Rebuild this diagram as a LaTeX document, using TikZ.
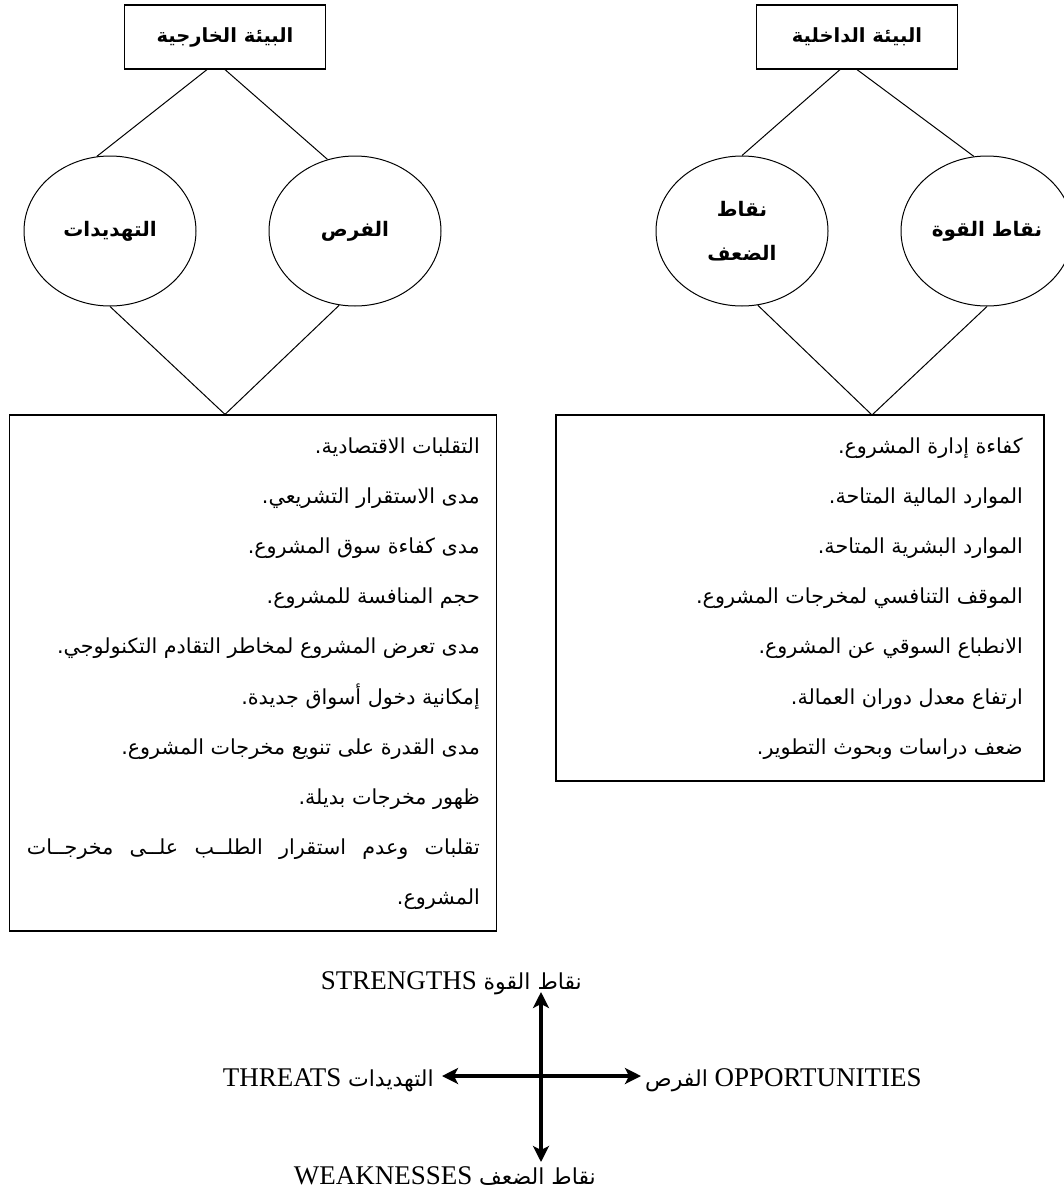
\documentclass[tikz,border=0pt]{standalone}
\usepackage{fontspec}
\setmainfont{Liberation Serif}
\newfontfamily\arabicfont[Script=Arabic]{DejaVu Sans}
\TeXXeTstate=1
\usetikzlibrary{shapes.geometric,arrows.meta}
\newcommand\artext[1]{{\arabicfont\beginR #1\endR}}
\newcommand\mytitlefont{\arabicfont\bfseries\fontsize{19.5}{30}\selectfont}
\newcommand\myovalfont{\arabicfont\bfseries\fontsize{20}{30}\selectfont}
\newcommand\mylistfont{\arabicfont\fontsize{20.7}{24}\selectfont}
\newcommand\mylblfont{\fontsize{27}{30}\selectfont}
\newcommand\mylblar{\arabicfont\fontsize{22}{24}\selectfont}
\tikzset{
  titlebox/.style={draw, line width=1.2pt, minimum width=201pt, minimum height=64pt, inner sep=0pt, font=\mytitlefont},
  oval/.style={draw, ellipse, line width=1pt, minimum width=172pt, minimum height=150pt, inner sep=0pt, font=\myovalfont, align=center},
  listbox/.style={draw, line width=1.2pt, inner sep=0pt},
  link/.style={line width=1pt},
  listline/.style={anchor=east, inner sep=0pt, text height=15pt, text depth=4pt, font=\mylistfont},
  lbl/.style={inner sep=0pt, font=\mylblfont, text height=18pt, text depth=0pt},
  axis/.style={line width=4pt, {Stealth[length=16pt,width=16pt,inset=4pt]}-{Stealth[length=16pt,width=16pt,inset=4pt]}},
}
\begin{document}
\begin{tikzpicture}[x=1pt,y=-1pt]
\useasboundingbox (0,0) rectangle (1064,1194);
\begin{scope}
\clip (0,0) rectangle (1064,1194);
% top boxes
\node[titlebox] (lbox) at (225,37) {\artext{البيئة الخارجية}};
\node[titlebox] (rbox) at (857,37) {\artext{البيئة الداخلية}};
% ellipses
\node[oval] (thr) at (110,231) {\artext{التهديدات}};
\node[oval] (opp) at (355,231) {\artext{الفرص}};
\node[oval] (weak) at (742,231) {\artext{نقاط}\\[14pt]\artext{الضعف}};
\node[oval] (str) at (987,231) {\artext{نقاط القوة}};
% list boxes
\node[listbox, minimum width=487pt, minimum height=516pt] (lbot) at (253,673) {};
\node[listbox, minimum width=488pt, minimum height=366pt] (rbot) at (800,598) {};
\coordinate (lm) at (lbox.south |- lbot.north);
\coordinate (rm) at (872,415);
% links
\draw[link] ([xshift=-18pt]lbox.south) -- (thr.100);
\draw[link] (lbox.south) -- (opp.111);
\draw[link] (thr.south) -- (lm) -- (opp.258);
\draw[link] ([xshift=-17pt]rbox.south) -- (weak.north);
\draw[link] (rbox.south) -- (str.100);
\draw[link] (weak.282) -- (rm) -- (str.south);
\end{scope}
% left list
\foreach \t [count=\i] in {التقلبات الاقتصادية.,مدى الاستقرار التشريعي.,مدى كفاءة سوق المشروع.,حجم المنافسة للمشروع.,مدى تعرض المشروع لمخاطر التقادم التكنولوجي.,إمكانية دخول أسواق جديدة.,مدى القدرة على تنويع مخرجات المشروع.,ظهور مخرجات بديلة.}
  \node[listline] (L\i) at (480,{448+50.1*(\i-1)}) {\artext{\t}};
\node[listline] (L9) at (480,{448+50.1*8}) {\hbox to 453pt{\beginR تقلبات\hfill وعدم\hfill استقرار\hfill الطلــب\hfill علــى\hfill مخرجــات\endR}};
\node[listline] (L10) at (480,{448+50.1*9}) {\artext{المشروع.}};
% right list
\foreach \t [count=\i] in {كفاءة إدارة المشروع.,الموارد المالية المتاحة.,الموارد البشرية المتاحة.,الموقف التنافسي لمخرجات المشروع.,الانطباع السوقي عن المشروع.,ارتفاع معدل دوران العمالة.,ضعف دراسات وبحوث التطوير.}
  \node[listline] (R\i) at (1023,{448+50.1*(\i-1)}) {\artext{\t}};
% SWOT cross
\coordinate (vt) at (541,992);
\coordinate (vb) at (541,1162);
\coordinate (hl) at (442,1076);
\coordinate (hr) at (641,1076);
\draw[axis] (vt) -- (vb);
\draw[axis] (hl) -- (hr);
\node[lbl, anchor=east] (lS) at (582,980) {STRENGTHS {\mylblar\beginR نقاط القوة\endR}};
\node[lbl, anchor=east] (lT) at (434,1077) {THREATS {\mylblar\beginR التهديدات\endR}};
\node[lbl, anchor=west] (lO) at (645,1077) {{\mylblar\beginR الفرص\endR} OPPORTUNITIES};
\node[lbl, anchor=east] (lW) at (596,1175) {WEAKNESSES {\mylblar\beginR نقاط الضعف\endR}};
\end{tikzpicture}
\end{document}
